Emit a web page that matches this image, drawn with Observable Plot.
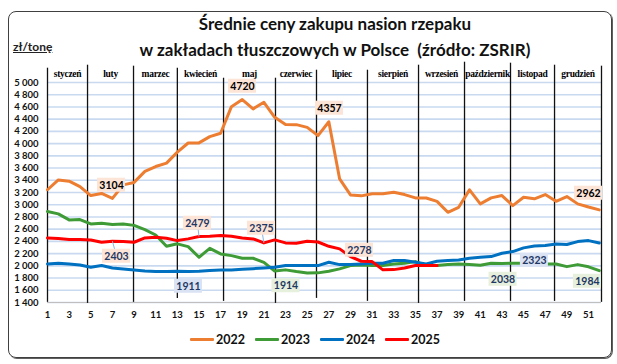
<!DOCTYPE html>
<html><head><meta charset="utf-8">
<script src="https://cdn.jsdelivr.net/npm/d3@7"></script>
<script src="https://cdn.jsdelivr.net/npm/@observablehq/plot@0.6"></script>
<style>
html,body{margin:0;padding:0;background:#fff;}
#wrap{position:relative;width:617px;height:364px;overflow:hidden;font-family:Lato,"Open Sans",sans-serif;}
#frame{position:absolute;left:8px;top:11px;width:602px;height:345px;border:1px solid #404040;border-radius:8px;box-shadow:1px 1px 0 #606060;}
#chart{position:absolute;left:0;top:0;}
#title{position:absolute;left:0;width:670px;top:11px;text-align:center;font-weight:bold;font-size:17px;line-height:26px;color:#111;}
#unit{position:absolute;left:13px;top:39px;font-weight:bold;font-size:12px;text-decoration:underline;color:#222;}
#legend{position:absolute;left:190px;top:332px;display:flex;align-items:center;font-weight:bold;font-size:12.5px;color:#111;}
.item{display:flex;align-items:center;margin-right:10px;}
.sw{width:24px;height:3px;margin-right:2px;border-radius:1px;}
</style></head>
<body>
<div id="wrap">
  <div id="frame"></div>
  <div id="chart"></div>
  <div id="title">Średnie ceny zakupu nasion rzepaku<br>w zakładach tłuszczowych w Polsce&nbsp; (źródło: ZSRIR)</div>
  <div id="unit">zł/tonę</div>
  <div id="legend"></div>
</div>
<script>
// ---- data ----
const seriesNames = ["2022", "2023", "2024", "2025"];
const seriesColors = ["#ED7D31", "#3E9B36", "#0070C0", "#FF0000"];
const prices2022 = [3245,3405,3385,3295,3150,3185,3104,3325,3365,3545,3625,3680,3860,4010,4012,4115,4170,4605,4720,4568,4676,4430,4312,4310,4266,4130,4357,3422,3160,3145,3180,3178,3204,3166,3112,3110,3055,2876,2958,3243,3014,3112,3150,2986,3123,3096,3166,3056,3134,3014,2962,2915];
const prices2023 = [2888,2850,2752,2757,2686,2697,2675,2686,2662,2593,2505,2320,2360,2315,2140,2287,2195,2167,2124,2124,2058,1914,1934,1906,1882,1885,1912,1950,2004,2015,2004,2004,2031,2042,2069,2004,2004,2020,2031,2020,2010,2042,2038,2042,2042,2031,2031,2031,1987,2020,1984,1922];
const prices2024 = [2031,2042,2031,2015,1976,2004,1965,1949,1932,1916,1906,1906,1911,1906,1910,1922,1932,1932,1944,1954,1965,1976,2004,2004,2004,2004,2059,2020,2020,2031,2042,2042,2086,2086,2059,2031,2075,2086,2097,2124,2140,2151,2206,2233,2294,2323,2331,2359,2348,2397,2413,2375];
const prices2025 = [2457,2446,2430,2430,2424,2386,2403,2397,2386,2457,2468,2451,2413,2441,2479,2484,2495,2484,2457,2441,2375,2424,2375,2370,2402,2390,2320,2278,2151,2075,2069,1934,1938,1965,2004,2004,2004];
const weekTicks = [1,3,5,7,9,11,13,15,17,19,21,23,25,27,29,31,33,35,37,39,41,43,45,47,49,51];
const priceTicks = [1400,1600,1800,2000,2200,2400,2600,2800,3000,3200,3400,3600,3800,4000,4200,4400,4600,4800,5000];
const monthNames = ["styczeń","luty","marzec","kwiecień","maj","czerwiec","lipiec","sierpień","wrzesień","październik","listopad","grudzień"];
// labelled values (series, week, value)
const labelSeries = ["2022","2022","2022","2022","2023","2023","2023","2024","2024","2025","2025","2025","2025"];
const labelWeeks  = [7,19,27,51,22,43,51,13,46,7,15,21,28];
const labelValues = [3104,4720,4357,2962,1914,2038,1984,1911,2323,2403,2479,2375,2278];

// ---- layout (annotation placement, in data units) ----
const monthEdges   = [1,4.7,8.95,13.0,17.27,22.07,25.86,30.57,35.29,39.54,43.79,47.86,52.2];
const edgeTops     = [5234,5283,5267,5234,5070,5070,5201,5201,5283,5332,5316,5283,5267];
const edgeBottoms  = [1402,1385,1402,1467,1418,1385,1467,1418,1385,1418,1418,1418,1402];
const monthLabelY  = 5136;
const labelBoxX = [6.92,19.02,27.06,51.0,23.04,43.1,50.9,14.03,46.0,7.38,14.86,20.78,29.83];
const labelBoxY = [3319,4939,4579,3188,1674,1780,1747,1666,2091,2157,2697,2615,2255];
const labelLeader = [false,false,false,false,false,false,false,false,false,true,true,true,false];
const boxFill = {"2022":"#FCE4D6","2023":"#E7F0DC","2024":"#DAE3F3","2025":"#FCE4D6"};
const boxText = {"2022":"#000000","2023":"#1F3864","2024":"#1F3864","2025":"#1F3864"};

// ---- build tables ----
const seriesValues = [prices2022, prices2023, prices2024, prices2025];
const rows = seriesNames.flatMap((name, s) => seriesValues[s].map((v, i) => ({year: name, week: i + 1, price: v})));
const labels = labelValues.map((v, i) => ({
  year: labelSeries[i], week: labelWeeks[i], value: v,
  lx: labelBoxX[i], ly: labelBoxY[i], leader: labelLeader[i]
}));
const edges = monthEdges.map((w, i) => ({w, top: edgeTops[i], bottom: edgeBottoms[i]}));
const months = monthNames.map((m, i) => ({name: m, mid: (monthEdges[i] + monthEdges[i + 1]) / 2}));
const fmt = d => d3.format(",")(d).replace(",", " ");

const chart = Plot.plot({
  width: 617, height: 364,
  marginLeft: 47, marginRight: 16, marginTop: 82, marginBottom: 62,
  style: {fontFamily: "Lato, 'Open Sans', sans-serif", background: "transparent", overflow: "visible"},
  x: {domain: [1, 52.2]},
  y: {domain: [1400, 5000]},
  color: {domain: seriesNames, range: seriesColors},
  marks: [
    Plot.gridY(priceTicks, {stroke: "#C9DAF0", strokeOpacity: 1, strokeWidth: 1.6}),
    Plot.ruleY([1400], {stroke: "#BFBFBF"}),
    Plot.axisY(priceTicks, {tickSize: 0, tickPadding: 9, tickFormat: fmt, fontWeight: "bold", fontSize: 9.5, fill: "#111", label: null}),
    Plot.axisX(weekTicks, {tickSize: 0, tickPadding: 9, fontWeight: "bold", fontSize: 9.5, fill: "#111", label: null}),
    Plot.ruleX(edges, {x: "w", y1: "bottom", y2: "top", stroke: "#111", strokeWidth: 1.3}),
    Plot.text(months, {x: "mid", y: monthLabelY, text: "name", fontFamily: "'Liberation Serif', serif", fontWeight: "bold", fontSize: 9.5, fill: "#000", style: "letter-spacing:-0.2px"}),
    Plot.line(rows, {x: "week", y: "price", z: "year", stroke: "year", strokeWidth: 3, strokeLinejoin: "round"}),
    Plot.link(labels.filter(d => d.leader), {x1: "lx", y1: "ly", x2: "week", y2: "value", stroke: "#8DB4E2", strokeWidth: 1}),
    Plot.rect(labels, {x1: "lx", x2: "lx", y1: "ly", y2: "ly", fill: d => boxFill[d.year], insetLeft: -14, insetRight: -14, insetTop: -7, insetBottom: -7}),
    Plot.text(labels, {x: "lx", y: "ly", text: d => String(d.value), fill: d => boxText[d.year], fontWeight: "bold", fontSize: 10.5})
  ]
});
document.getElementById("chart").appendChild(chart);
chart.querySelectorAll("text").forEach(t => { if (monthNames.includes(t.textContent)) t.setAttribute("letter-spacing", "-0.3"); });

// legend
const legend = document.getElementById("legend");
seriesNames.forEach((n, i) => {
  const it = document.createElement("div");
  it.className = "item";
  it.innerHTML = `<span class="sw" style="background:${seriesColors[i]}"></span><span>${n}</span>`;
  legend.appendChild(it);
});
</script>
</body></html>
